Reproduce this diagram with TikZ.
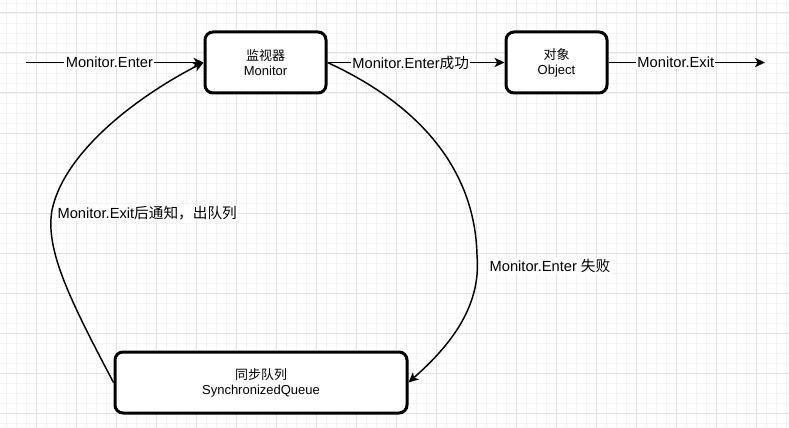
\documentclass[tikz,border=0pt]{standalone}
\usepackage{fontspec}
\setmainfont{Liberation Sans}
\newfontfamily\cjk{Noto Sans CJK SC}
\usetikzlibrary{arrows.meta}
\definecolor{gridminor}{HTML}{F4F4F4}
\definecolor{gridmajor}{HTML}{E2E2E2}
\tikzset{
  box/.style={draw=black, line width=2.25pt, rounded corners=6pt, fill=white,
    align=center, font=\fontsize{9.75}{11.25}\selectfont, inner sep=0pt},
  arr/.style={draw=black, line width=1.1pt, -{Stealth[length=7.5pt,width=7pt,inset=2pt]}},
  lbl/.style={fill=white, inner sep=1pt, font=\fontsize{11}{13}\selectfont},
  gminor/.style={draw=gridminor, line width=0.6pt},
  gmajor/.style={draw=gridmajor, line width=0.75pt}
}
\begin{document}
\begin{tikzpicture}[x=0.75pt, y=-0.75pt]
\useasboundingbox (0,0) rectangle (789,428);
\fill[white] (0,0) rectangle (789,428);
% grid
\foreach \x in {6,16,...,786} \draw[gminor] (\x,0) -- (\x,428);
\foreach \y in {3,13,...,423} \draw[gminor] (0,\y) -- (789,\y);
\foreach \x in {36,76,...,756} \draw[gmajor] (\x,0) -- (\x,428);
\foreach \y in {13,53,...,413} \draw[gmajor] (0,\y) -- (789,\y);

% nodes
\node[box, minimum width=90.75pt, minimum height=45.75pt] (mon) at (265.5,62.5) {{\cjk 监视器}\\Monitor};
\node[box, minimum width=75.75pt, minimum height=45.75pt] (obj) at (556.5,62.5) {{\cjk 对象}\\Object};
\node[box, minimum width=219pt, minimum height=45.75pt] (q) at (261,382.5) {{\cjk 同步队列}\\SynchronizedQueue};

\coordinate (in) at (26,62.5);
\coordinate (out) at (765,62.5);

% straight edges
\draw[arr] (in) -- (mon.west) node[lbl, pos=0.47] {Monitor.Enter};
\draw[arr] (mon.east) -- (obj.west) node[lbl, pos=0.47] {Monitor.Enter{\cjk 成功}};
\draw[arr] (obj.east) -- (out) node[lbl, pos=0.43] {Monitor.Exit};

% curved edges
\draw[arr] (mon.east) .. controls (420,105) and (475,170) .. (477,255)
  .. controls (482,310) and (445,350) .. (q.east);
\node[lbl] (lfail) at (550,266) {Monitor.Enter {\cjk 失败}};

\draw[arr] (q.west) .. controls (70,300) and (45,250) .. (52,210)
  .. controls (65,150) and (140,95) .. (mon.west);
\node[lbl, anchor=west] (lexit) at (56,213) {Monitor.Exit{\cjk 后通知，出队列}};
\end{tikzpicture}
\end{document}
